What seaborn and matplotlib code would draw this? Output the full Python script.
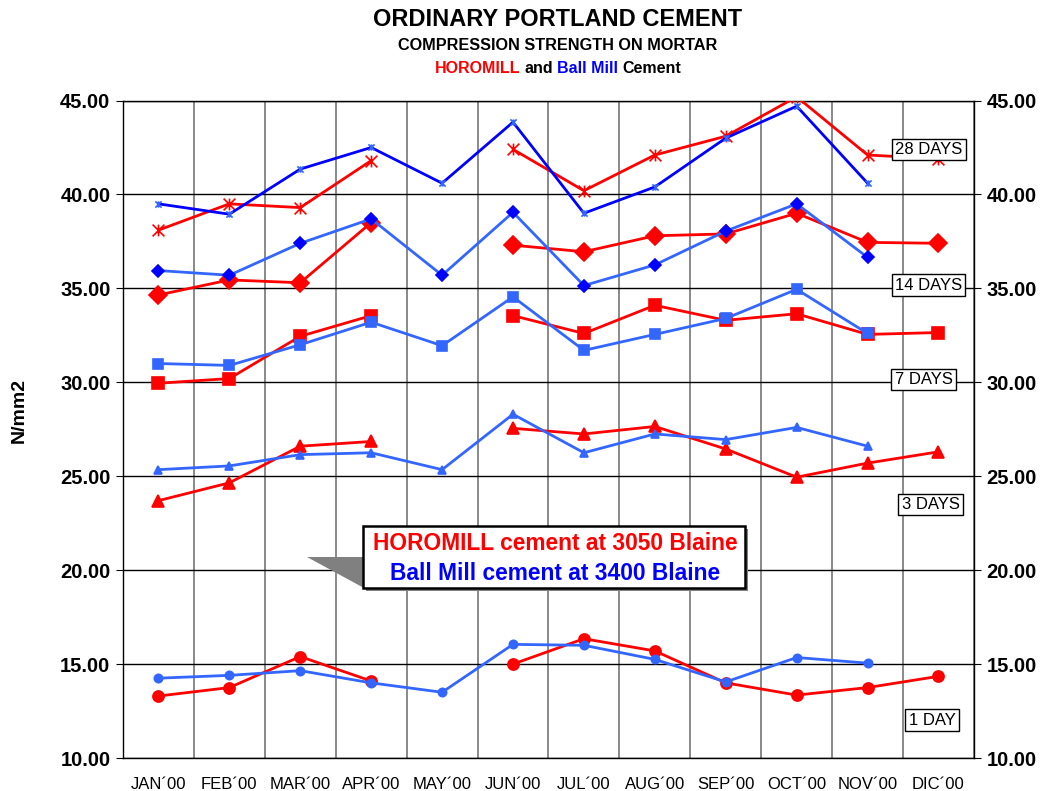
import numpy as np
import pandas as pd
import seaborn as sns
import matplotlib.pyplot as plt
from matplotlib.path import Path
from matplotlib.patches import Rectangle, Polygon

nan = np.nan
months = ["JAN´00", "FEB´00", "MAR´00", "APR´00", "MAY´00", "JUN´00",
          "JUL´00", "AUG´00", "SEP´00", "OCT´00", "NOV´00", "DIC´00"]

# HOROMILL (red) and Ball Mill (blue) strengths, N/mm2
h28 = [38.1, 39.5, 39.3, 41.8, nan, 42.4, 40.2, 42.1, 43.1, 45.2, 42.1, 41.9]
b28 = [39.5, 38.95, 41.35, 42.5, 40.6, 43.85, 39.0, 40.4, 43.0, 44.7, 40.6, nan]
h14 = [34.65, 35.45, 35.3, 38.5, nan, 37.3, 36.95, 37.8, 37.9, 39.0, 37.45, 37.4]
b14 = [35.95, 35.7, 37.4, 38.7, 35.7, 39.05, 35.15, 36.25, 38.05, 39.5, 36.65, nan]
h7 = [29.95, 30.2, 32.45, 33.55, nan, 33.55, 32.6, 34.1, 33.3, 33.65, 32.55, 32.65]
b7 = [31.0, 30.9, 32.0, 33.2, 31.95, 34.55, 31.7, 32.55, 33.4, 34.95, 32.6, nan]
h3 = [23.7, 24.65, 26.6, 26.85, nan, 27.55, 27.25, 27.65, 26.45, 24.95, 25.7, 26.3]
b3 = [25.35, 25.55, 26.15, 26.25, 25.35, 28.3, 26.25, 27.25, 26.95, 27.6, 26.6, nan]
h1 = [13.3, 13.75, 15.4, 14.1, nan, 15.0, 16.35, 15.7, 14.0, 13.35, 13.75, 14.35]
b1 = [14.25, 14.4, 14.65, 14.0, 13.5, 16.05, 16.0, 15.25, 14.05, 15.35, 15.05, nan]

day_labels = ["28 DAYS", "14 DAYS", "7 DAYS", "3 DAYS", "1 DAY"]

sns.set_style("white")
plt.rcParams['font.family'] = ['Liberation Sans', 'DejaVu Sans']
plt.rcParams.update({"text.color": "black", "axes.labelcolor": "black",
                     "xtick.color": "black", "ytick.color": "black"})

RED = "#FF0000"
BLUE = "#0000FF"
LBLUE = "#3366FF"

# asterisk marker: x plus vertical bar
star = Path([(0, -1), (0, 1), (-1, -1), (1, 1), (-1, 1), (1, -1)],
            [Path.MOVETO, Path.LINETO, Path.MOVETO, Path.LINETO, Path.MOVETO, Path.LINETO])

fig = plt.figure(figsize=(10.42, 7.91), dpi=100)
ax = fig.add_axes([0.118, 0.0417, 0.8167, 0.8312])


def draw(vals, line_color, marker, ms, mcolor, z):
    df = pd.DataFrame({"x": range(len(vals)), "y": vals})
    seg = df["y"].isna().cumsum()
    for _, part in df[df["y"].notna()].groupby(seg[df["y"].notna()]):
        sns.lineplot(data=part, x="x", y="y", ax=ax, color=line_color, lw=2,
                     marker=marker, markersize=ms, markerfacecolor=mcolor,
                     markeredgecolor=mcolor, markeredgewidth=1.2, zorder=z)


draw(h28, RED, star, 8.5, RED, 3)
draw(b28, BLUE, star, 4.5, LBLUE, 4)
draw(h14, RED, "D", 9, RED, 3)
draw(b14, LBLUE, "D", 6, BLUE, 4)
draw(h7, RED, "s", 9, RED, 3)
draw(b7, LBLUE, "s", 7, LBLUE, 4)
draw(h3, RED, "^", 9, RED, 3)
draw(b3, LBLUE, "^", 5.5, LBLUE, 4)
draw(h1, RED, "o", 8, RED, 3)
draw(b1, LBLUE, "o", 6, LBLUE, 4)

ax.set_xlim(-0.5, 11.5)
ax.set_ylim(10, 45)
ax.set_xticks(range(12))
ax.set_xticklabels(months, fontsize=12)
ax.set_xticks(np.arange(-0.5, 12), minor=True)
ax.tick_params(axis="x", which="major", length=0, pad=14)
ax.tick_params(axis="x", which="minor", length=5, color="black", direction="out")
ax.set_yticks(np.arange(10, 46, 5))
ax.set_yticklabels([f"{v:.2f}" for v in np.arange(10, 46, 5)], fontsize=14.5, fontweight="bold")
ax.tick_params(axis="y", length=5, direction="out", color="black",
               left=True, right=True, labelleft=True, labelright=True, pad=4)
ax.set_xlabel("")
ax.set_ylabel("")
ax.grid(which="minor", axis="x", color="#808080", lw=1.3)
ax.grid(which="major", axis="x", visible=False)
ax.grid(which="major", axis="y", color="black", lw=1)
ax.set_axisbelow(True)
for s in ax.spines.values():
    s.set_color("black")
    s.set_linewidth(1)

fig.text(0.018, 0.481, "N/mm2", rotation=90, fontsize=14, fontweight="bold",
         ha="center", va="center")

# titles
fig.text(0.535, 0.975, "ORDINARY PORTLAND CEMENT", fontsize=17, fontweight="bold",
         ha="center", va="center")
fig.text(0.535, 0.942, "COMPRESSION STRENGTH ON MORTAR", fontsize=11.7, fontweight="bold",
         ha="center", va="center")
t1 = fig.text(0.4175, 0.914, "HOROMILL", fontsize=11.5, fontweight="bold", color=RED,
              ha="left", va="center")
t2 = ax.annotate("and", xy=(1, 0), xycoords=t1, xytext=(3, 0), textcoords="offset points",
                 fontsize=11.5, fontweight="bold", color="black", va="bottom",
                 annotation_clip=False)
t3 = ax.annotate("Ball Mill", xy=(1, 0), xycoords=t2, xytext=(3, 0), textcoords="offset points",
                 fontsize=11.5, fontweight="bold", color=BLUE, va="bottom",
                 annotation_clip=False)
ax.annotate("Cement", xy=(1, 0), xycoords=t3, xytext=(3, 0), textcoords="offset points",
            fontsize=11.5, fontweight="bold", color="black", va="bottom",
            annotation_clip=False)

# legend callout box
W, H = 1042, 791
def fx(px): return px / W
def fy(py): return 1 - py / H

fig.patches.append(Polygon([(fx(307), fy(557)), (fx(364), fy(557)), (fx(364), fy(588))],
                           closed=True, transform=fig.transFigure, fc="#808080",
                           ec="none", zorder=5))
fig.patches.append(Rectangle((fx(366), fy(591)), fx(745 - 363), (588 - 526) / H,
                             transform=fig.transFigure, fc="#808080", ec="none", zorder=5))
fig.patches.append(Rectangle((fx(363), fy(588)), fx(745 - 363), (588 - 526) / H,
                             transform=fig.transFigure, fc="white", ec="black", lw=1.8,
                             zorder=6))
fig.text(fx(555), fy(544), "HOROMILL cement at 3050 Blaine", color=RED, fontsize=16.4,
         fontweight="bold", ha="center", va="center", zorder=7)
fig.text(fx(555), fy(573), "Ball Mill cement at 3400 Blaine", color=BLUE, fontsize=16.4,
         fontweight="bold", ha="center", va="center", zorder=7)

# age labels
label_pos = [(0.947, 0.9255), (0.9466, 0.7194), (0.9407, 0.5757), (0.9489, 0.3856), (0.9507, 0.0578)]
for lab, (lx, ly) in zip(day_labels, label_pos):
    ax.text(lx, ly, lab, transform=ax.transAxes, fontsize=12, ha="center", va="center",
            zorder=10, bbox=dict(boxstyle="square,pad=0.2", fc="white", ec="black", lw=1))

fig.savefig("out.png", dpi=100)
